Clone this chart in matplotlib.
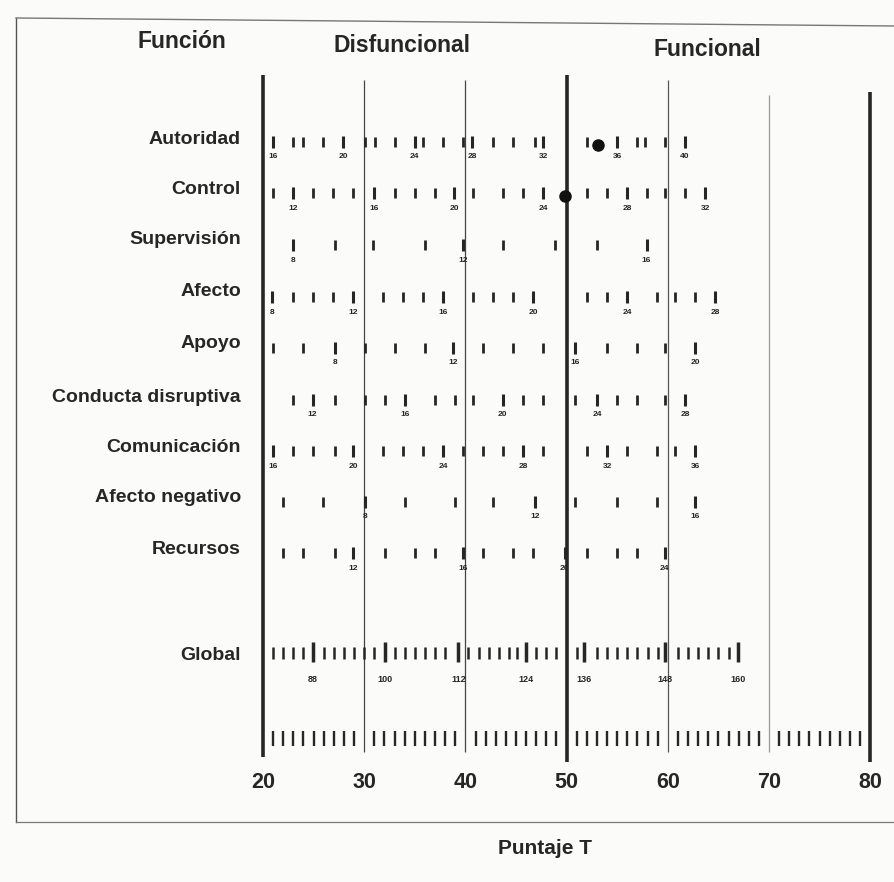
import matplotlib
matplotlib.use("Agg")
import matplotlib.pyplot as plt

# ---------------- data (T-score positions) ----------------
row_names = ["Autoridad", "Control", "Supervisión", "Afecto", "Apoyo",
             "Conducta disruptiva", "Comunicación", "Afecto negativo", "Recursos"]

autoridad_ticks = [21.0, 23.0, 24.0, 25.9, 27.9, 30.1, 31.1, 33.0, 35.0, 35.8, 37.8, 39.8,
                   40.7, 42.7, 44.7, 46.9, 47.7, 52.0, 55.0, 57.0, 57.7, 59.7, 61.7]
autoridad_labels = {16: 21.0, 20: 27.9, 24: 35.0, 28: 40.7, 32: 47.7, 36: 55.0, 40: 61.7}

control_ticks = [21.0, 23.0, 24.9, 26.9, 28.9, 31.0, 33.0, 35.0, 37.0, 38.9, 40.8, 43.7,
                 45.7, 47.7, 52.0, 54.0, 56.0, 57.9, 59.7, 61.7, 63.7]
control_labels = {12: 23.0, 16: 31.0, 20: 38.9, 24: 47.7, 28: 56.0, 32: 63.7}

supervision_ticks = [23.0, 27.1, 30.9, 36.0, 39.8, 43.7, 48.9, 53.0, 57.9]
supervision_labels = {8: 23.0, 12: 39.8, 16: 57.9}

afecto_ticks = [20.9, 23.0, 24.9, 26.9, 28.9, 31.9, 33.8, 35.8, 37.8, 40.8, 42.7, 44.7,
                46.7, 52.0, 54.0, 56.0, 58.9, 60.7, 62.7, 64.7]
afecto_labels = {8: 20.9, 12: 28.9, 16: 37.8, 20: 46.7, 24: 56.0, 28: 64.7}

apoyo_ticks = [21.0, 24.0, 27.1, 30.1, 33.0, 36.0, 38.8, 41.7, 44.7, 47.7, 50.8, 54.0,
               57.0, 59.7, 62.7]
apoyo_labels = {8: 27.1, 12: 38.8, 16: 50.8, 20: 62.7}

conducta_ticks = [23.0, 24.9, 27.1, 30.1, 32.1, 34.0, 37.0, 39.0, 40.8, 43.7, 45.7, 47.7,
                  50.8, 53.0, 55.0, 57.0, 59.7, 61.7]
conducta_labels = {12: 24.9, 16: 34.0, 20: 43.7, 24: 53.0, 28: 61.7}

comunicacion_ticks = [21.0, 23.0, 24.9, 27.1, 28.9, 31.9, 33.8, 35.8, 37.8, 39.8, 41.7,
                      43.7, 45.7, 47.7, 52.0, 54.0, 56.0, 58.9, 60.7, 62.7]
comunicacion_labels = {16: 21.0, 20: 28.9, 24: 37.8, 28: 45.7, 32: 54.0, 36: 62.7}

afecto_neg_ticks = [22.0, 25.9, 30.1, 34.0, 39.0, 42.7, 46.9, 50.8, 55.0, 58.9, 62.7]
afecto_neg_labels = {8: 30.1, 12: 46.9, 16: 62.7}

recursos_ticks = [22.0, 24.0, 27.1, 28.9, 32.1, 35.0, 37.0, 39.8, 41.7, 44.7, 46.7, 49.8,
                  52.0, 55.0, 57.0, 59.7]
recursos_labels = {12: 28.9, 16: 39.8, 20: 49.8, 24: 59.7}

global_ticks = [21, 22, 23, 24, 26, 27, 28, 29, 30, 31, 33, 34, 35, 36, 37, 38,
                40.3, 41.3, 42.3, 43.3, 44.3, 45.1, 47, 48, 49, 51, 53, 54, 55, 56,
                57, 58, 59, 61, 62, 63, 64, 65, 66]
global_major = {88: 24.9, 100: 32.1, 112: 39.3, 124: 46.0, 136: 51.7, 148: 59.7, 160: 66.9}

marked_points = {"Autoridad": 53.1, "Control": 49.8}

t_axis_labels = [20, 30, 40, 50, 60, 70, 80]
t_minor = [t for t in range(21, 80) if t % 10 != 0]

rows = [
    (autoridad_ticks, autoridad_labels),
    (control_ticks, control_labels),
    (supervision_ticks, supervision_labels),
    (afecto_ticks, afecto_labels),
    (apoyo_ticks, apoyo_labels),
    (conducta_ticks, conducta_labels),
    (comunicacion_ticks, comunicacion_labels),
    (afecto_neg_ticks, afecto_neg_labels),
    (recursos_ticks, recursos_labels),
]

# ---------------- layout ----------------
PX_PER_T = 10.12
X20 = 263.0


def px2t(px):
    return 20 + (px - X20) / PX_PER_T


INK = "#262626"
FONT = "Liberation Sans"
row_y = [142, 193, 245, 297, 348, 400, 451, 502, 553]
label_y = [140, 190, 239, 291, 343, 397, 448, 498, 550]

fig = plt.figure(figsize=(8.95, 8.82), dpi=100)
fig.patch.set_facecolor("#fbfbf9")
ax = fig.add_axes([0, 0, 1, 1])
ax.set_xlim(px2t(0), px2t(895))
ax.set_ylim(882, 0)
ax.axis("off")

# outer frame of the scanned sheet
ax.plot([px2t(16), px2t(16)], [18, 822], color="#555555", lw=1.0)
ax.plot([px2t(16), px2t(895)], [18, 26], color="#777777", lw=1.0)
ax.plot([px2t(16), px2t(895)], [822, 822], color="#777777", lw=0.9)

# vertical reference lines
vlines = {20: (75, 757, 2.6, INK), 30: (80, 752, 0.9, "#444444"),
          40: (80, 752, 0.9, "#444444"), 50: (75, 762, 2.6, INK),
          60: (80, 752, 0.9, "#555555"), 70: (95, 752, 0.9, "#9a9a9a"),
          80: (92, 762, 2.6, INK)}
for t, (y0, y1, lw, c) in vlines.items():
    ax.plot([t, t], [y0, y1], color=c, lw=lw, solid_capstyle="butt")

# headers
ax.text(px2t(182), 42, "Función", ha="center", va="center", fontsize=16.5,
        fontweight="bold", family=FONT, color=INK)
ax.text(px2t(402), 46, "Disfuncional", ha="center", va="center", fontsize=16.5,
        fontweight="bold", family=FONT, color=INK)
ax.text(px2t(707), 50, "Funcional", ha="center", va="center", fontsize=16.5,
        fontweight="bold", family=FONT, color=INK)

# scale rows
for name, (ticks, labels), yc, yl in zip(row_names, rows, row_y, label_y):
    ax.text(px2t(241), yl, name, ha="right", va="center", fontsize=14,
            fontweight="bold", family=FONT, color=INK)
    ax.vlines(ticks, yc - 5, yc + 5, color=INK, lw=2.0)
    for raw, t in labels.items():
        ax.vlines([t], yc - 6, yc + 6, color=INK, lw=2.2)
        ax.text(t, yc + 15, str(raw), ha="center", va="center", fontsize=6,
                fontweight="bold", family=FONT, color=INK)
    if name in marked_points:
        ax.plot([marked_points[name]], [yc + 3], "o", color="#111111", ms=8)

# Global row
ax.text(px2t(241), 655, "Global", ha="right", va="center", fontsize=14,
        fontweight="bold", family=FONT, color=INK)
ax.vlines(global_ticks, 647, 659, color=INK, lw=1.8)
for raw, t in global_major.items():
    ax.vlines([t], 642, 662, color=INK, lw=2.5)
    ax.text(t, 679, str(raw), ha="center", va="center", fontsize=6.5,
            fontweight="bold", family=FONT, color=INK)

# bottom T-score scale
ax.vlines(t_minor, 731, 746, color=INK, lw=1.7)
for t in t_axis_labels:
    ax.text(t, 783, str(t), ha="center", va="center", fontsize=15.5,
            fontweight="bold", family=FONT, color=INK)
ax.text(px2t(545), 848, "Puntaje T", ha="center", va="center", fontsize=15,
        fontweight="bold", family=FONT, color=INK)

fig.savefig("out.png", dpi=100, facecolor=fig.get_facecolor())
